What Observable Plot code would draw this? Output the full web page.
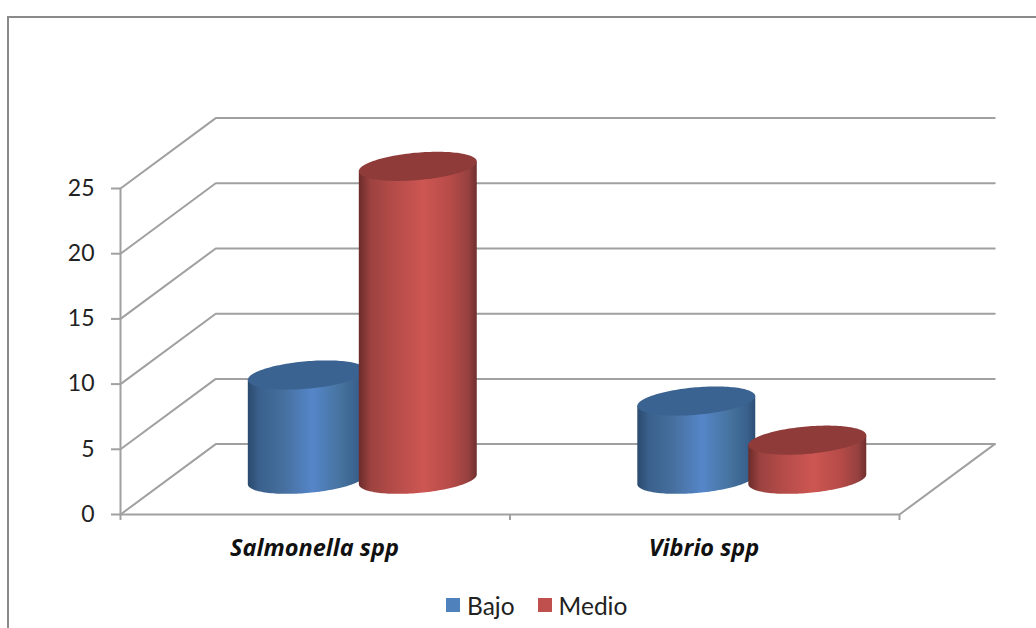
<!DOCTYPE html>
<html>
<head>
<meta charset="utf-8">
<script src="https://cdn.jsdelivr.net/npm/d3@7"></script>
<script src="https://cdn.jsdelivr.net/npm/@observablehq/plot@0.6"></script>
<style>
  html, body { margin: 0; padding: 0; background: #fff; overflow: hidden; width: 1036px; height: 628px; }
  #frame { position: absolute; left: 7px; top: 16px; width: 1040px; height: 640px; border-top: 2px solid #8a8a8a; border-left: 2px solid #8a8a8a; pointer-events: none; }
  #legend { position: absolute; left: 446px; top: 590px; height: 30px; display: flex; align-items: center; font: 24.5px Lato, sans-serif; color: #222; }
  #legend i { display: inline-block; width: 14px; height: 14px; margin-right: 7px; }
  #legend span { margin-right: 23px; }
  #chart { position: absolute; left: 0; top: 0; }
  svg { display: block; }
</style>
</head>
<body>
<div id="chart"></div>
<div id="frame"></div>
<div id="legend"></div>
<script>
const categories = ["Salmonella spp", "Vibrio spp"];
const seriesNames = ["Bajo", "Medio"];
const bajo = [8, 6];
const medio = [24, 3];
const yTicks = [0, 5, 10, 15, 20, 25];
const xTicks = [0, 1, 2];
const seriesColors = ["#4f81bd", "#c0504d"];

const gridColor = "#a0a0a0";
const fontFamily = "Lato, sans-serif";
// depth of the 3-D box, in axis units (one category = 1 on x)
const depthX = 0.2445;
const depthY = 5.4;
const slotOffsets = [0.356, 0.641];
const radiusX = 0.1427;
const radiusDepth = 0.207;

// Defines the shaded fills used by the cylinders
function gradients() {
  const defs = d3.create("svg:defs");
  const stops = {
    blue: [[0, "#2b4a6e"], [0.1, "#3a618d"], [0.3, "#466f9e"], [0.55, "#5586c9"], [0.78, "#46739f"], [0.93, "#3a618d"], [1, "#2d4e74"]],
    red: [[0, "#6b2c2a"], [0.1, "#9c4240"], [0.3, "#b54c49"], [0.55, "#cd5652"], [0.78, "#b64b48"], [0.93, "#964140"], [1, "#6f2f2d"]]
  };
  for (const [id, list] of Object.entries(stops)) {
    const g = defs.append("linearGradient").attr("id", id).attr("x1", 0).attr("x2", 1).attr("y1", 0).attr("y2", 0);
    for (const [o, c] of list) g.append("stop").attr("offset", o).attr("stop-color", c);
  }
  return defs.node();
}

function discPoint(cx, value, t) {
  const d = 0.5 + radiusDepth * Math.sin(t);
  return {x: cx + radiusX * Math.cos(t) + d * depthX, y: value + d * depthY};
}

function cylinder(cx, value, bodyFill, capFill) {
  const t0 = Math.atan2(depthX * radiusDepth, radiusX);
  const n = 72;
  const body = [];
  for (let i = 0; i <= n; ++i) body.push(discPoint(cx, 0, t0 + Math.PI + Math.PI * i / n));
  body.push(discPoint(cx, value, t0));
  body.push(discPoint(cx, value, t0 + Math.PI));
  const cap = [];
  for (let i = 0; i < 2 * n; ++i) cap.push(discPoint(cx, value, Math.PI * i / n));
  return [
    Plot.line(body, {x: "x", y: "y", fill: bodyFill, stroke: "none"}),
    Plot.line(cap, {x: "x", y: "y", fill: capFill, stroke: "none"})
  ];
}

const wallLines = yTicks.map((v) => [{x: 0, y: v}, {x: depthX, y: v + depthY}, {x: 2 + depthX, y: v + depthY}]);
wallLines.push([{x: 0, y: 0}, {x: 0, y: yTicks[yTicks.length - 1]}]);
wallLines.push([{x: 0, y: 0}, {x: 2, y: 0}, {x: 2 + depthX, y: depthY}]);

const lineStyle = {x: "x", y: "y", stroke: gridColor, strokeWidth: 2, strokeLinejoin: "miter"};

const plot = Plot.plot({
  width: 1036,
  height: 590,
  marginLeft: 120,
  marginRight: 137,
  marginTop: 188,
  marginBottom: 76,
  style: {background: "transparent", overflow: "visible"},
  x: {type: "linear", domain: [0, 2], axis: null},
  y: {type: "linear", domain: [0, 25], axis: null},
  marks: [
    gradients,
    ...wallLines.map((l) => Plot.line(l, lineStyle)),
    Plot.axisY({
      ticks: yTicks, tickSize: 9, tickPadding: 17, stroke: gridColor, strokeWidth: 2,
      fill: "#222", fontSize: 23, fontFamily, label: null
    }),
    Plot.ruleX(xTicks, {x: (d) => d, y1: 0, y2: -0.46, stroke: gridColor, strokeWidth: 2}),
    categories.flatMap((c, i) => [
      ...cylinder(i + slotOffsets[0], bajo[i], "url(#blue)", "#3b6391"),
      ...cylinder(i + slotOffsets[1], medio[i], "url(#red)", "#8e3b39")
    ]),
    Plot.text(categories, {
      x: (d, i) => i + 0.498, y: 0, dy: 34, text: (d) => d,
      fontSize: 23.5, fontWeight: "bold", fontStyle: "italic", fontFamily: "'Open Sans', sans-serif", fill: "#111"
    })
  ]
});
document.getElementById("chart").append(plot);

const legend = document.getElementById("legend");
seriesNames.forEach((name, i) => {
  const sw = document.createElement("i");
  sw.style.background = seriesColors[i];
  const label = document.createElement("span");
  label.textContent = name;
  legend.append(sw, label);
});
</script>
</body>
</html>
